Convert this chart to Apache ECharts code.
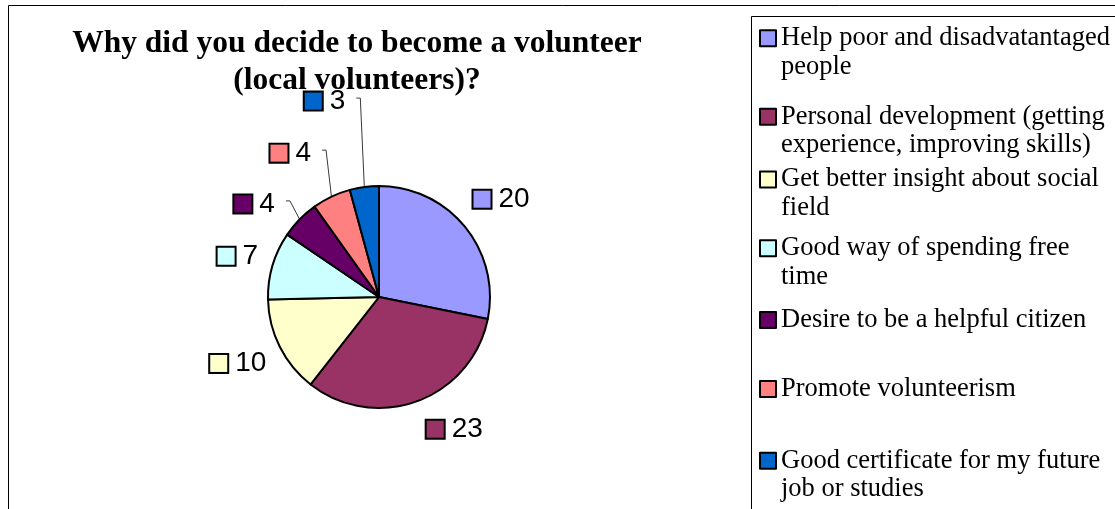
<!DOCTYPE html>
<html>
<head>
<meta charset="utf-8">
<script src="https://cdn.jsdelivr.net/npm/echarts@6/dist/echarts.min.js"></script>
<style>
  html, body { margin: 0; padding: 0; background: #fff; }
  #chart { width: 1115px; height: 509px; }
</style>
</head>
<body>
<div id="chart"></div>
<script>
// ---- data ----
const titleText = 'Why did you decide to become a volunteer\n(local volunteers)?';
const categories = [
  'Help poor and disadvatantaged\npeople',
  'Personal development (getting\nexperience, improving skills)',
  'Get better insight about social\nfield',
  'Good way of spending free\ntime',
  'Desire to be a helpful citizen',
  'Promote volunteerism',
  'Good certificate for my future\njob or studies'
];
const counts = [20, 23, 10, 7, 4, 4, 3];

// ---- styling / layout ----
const sliceColors = ['#9999FF', '#993366', '#FFFFCC', '#CCFFFF', '#660066', '#FF8080', '#0066CC'];
const CX = 379, CY = 297, R = 111;     // pie centre and radius (px)
const LABEL_R = 126;                   // radius at which a label's inner corner sits
const labelNudge = [[-3, -7], [4, 3], [0, -1], [0, 6], [-14, 6], [-14, -19], [-17, -60]];
const hasLeader = [false, false, false, false, true, true, true];
const LEADER_GAP = 11, LEADER_STUB = 4;
const legendIconTops = [30.3, 108.7, 171.5, 240.3, 312, 381, 452.7];
const LEGEND_LH = 28.5;

// mid angle of every slice (radians, counter-clockwise from +x), slices run clockwise from 12 o'clock
const total = counts.reduce((a, b) => a + b, 0);
const midAngles = [];
let acc = 0;
counts.forEach(v => {
  midAngles.push(Math.PI / 2 - (acc + v / 2) / total * 2 * Math.PI);
  acc += v;
});

const rich = {
  v: { fontFamily: 'Liberation Sans, Arial, sans-serif', fontSize: 28, color: '#000', padding: [0, 0, 0, 8], lineHeight: 22 }
};
sliceColors.forEach((c, i) => {
  rich['k' + i] = { width: 17, height: 17, backgroundColor: c, borderColor: '#000', borderWidth: 2 };
});

const pieData = categories.map((name, i) => ({
  name: name,
  value: counts[i],
  itemStyle: { color: sliceColors[i] },
  labelLine: { show: hasLeader[i] }
}));

// one legend per entry so each entry sits at its own height;
// a leading blank line keeps the key square level with the first text line
const legends = categories.map((name, i) => {
  const twoLines = name.indexOf('\n') >= 0;
  return {
    data: [name],
    orient: 'vertical',
    left: 759,
    top: legendIconTops[i] - (twoLines ? 1.5 * LEGEND_LH - 8 : LEGEND_LH / 2 - 8),
    padding: 0,
    itemWidth: 16,
    itemHeight: 16,
    icon: 'rect',
    selectedMode: false,
    formatter: n => (n.indexOf('\n') >= 0 ? '\n' + n : n),
    itemStyle: { borderColor: '#000', borderWidth: 2 },
    textStyle: {
      fontFamily: 'Liberation Serif, Times New Roman, serif',
      fontSize: 26.5,
      lineHeight: LEGEND_LH,
      color: '#000'
    }
  };
});

const chart = echarts.init(document.getElementById('chart'), null, { renderer: 'canvas' });
chart.setOption({
  animation: false,
  backgroundColor: '#fff',
  title: {
    text: titleText,
    left: 357,
    top: 25,
    textAlign: 'center',
    padding: 0,
    textStyle: {
      fontFamily: 'Liberation Serif, Times New Roman, serif',
      fontWeight: 'bold',
      fontSize: 31.5,
      lineHeight: 37,
      color: '#000'
    }
  },
  legend: legends,
  graphic: [
    { type: 'rect', silent: true, z: -10, shape: { x: 8.5, y: 5.5, width: 1200, height: 600 },
      style: { fill: null, stroke: '#000', lineWidth: 1 } },
    { type: 'rect', silent: true, z: -10, shape: { x: 751.5, y: 16.5, width: 500, height: 600 },
      style: { fill: null, stroke: '#000', lineWidth: 1 } }
  ],
  series: [{
    type: 'pie',
    center: [CX, CY],
    radius: R,
    startAngle: 90,
    clockwise: true,
    avoidLabelOverlap: false,
    silent: true,
    itemStyle: { borderColor: '#000', borderWidth: 2 },
    label: {
      show: true,
      position: 'outside',
      formatter: p => '{k' + p.dataIndex + '|}{v|' + p.value + '}',
      rich: rich
    },
    labelLine: {
      show: true,
      smooth: false,
      lineStyle: { color: '#3a3a3a', width: 1 }
    },
    labelLayout: function (p) {
      const i = p.dataIndex;
      const a = midAngles[i];
      const c = Math.cos(a), s = Math.sin(a);
      const x = CX + LABEL_R * c + labelNudge[i][0];
      const y = CY - LABEL_R * s + labelNudge[i][1];
      const res = { x: x, y: y, align: c >= 0 ? 'left' : 'right', verticalAlign: s >= 0 ? 'bottom' : 'top' };
      if (hasLeader[i]) {
        const h = p.labelRect.height;
        const ay = s >= 0 ? y - h / 2 : y + h / 2;
        const ax = c >= 0 ? x - LEADER_GAP : x + LEADER_GAP;
        const bx = c >= 0 ? ax - LEADER_STUB : ax + LEADER_STUB;
        res.labelLinePoints = [[CX + R * c, CY - R * s], [bx, ay], [ax, ay]];
      }
      return res;
    },
    data: pieData
  }]
});
</script>
</body>
</html>
